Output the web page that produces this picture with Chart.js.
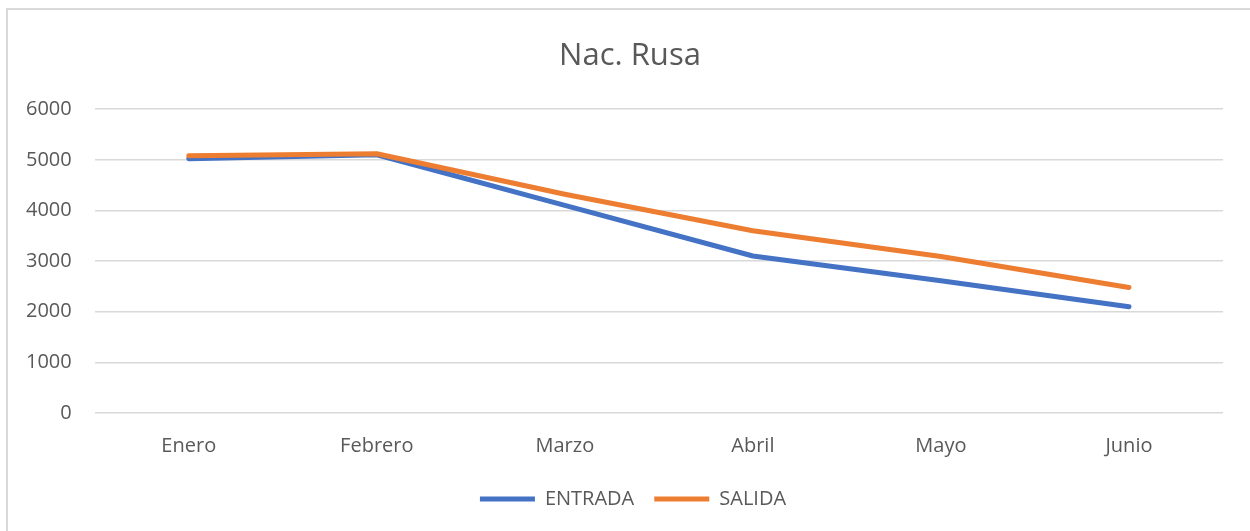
<!DOCTYPE html>
<html>
<head>
<meta charset="utf-8">
<script src="https://cdn.jsdelivr.net/npm/chart.js@4.4.1/dist/chart.umd.min.js"></script>
<style>
  html, body { margin: 0; padding: 0; background: #fff; overflow: hidden; }
  #wrap { position: relative; width: 1250px; height: 531px; }
  #marco { position: absolute; left: 6px; top: 8px; width: 1300px; height: 600px; border: 2px solid #d9d9d9; box-sizing: border-box; }
  canvas { position: absolute; left: 0; top: 0; }
</style>
</head>
<body>
<div id="wrap">
  <div id="marco"></div>
  <canvas id="graf" width="1250" height="531"></canvas>
</div>
<script>
// Datos del gráfico
const meses = ['Enero', 'Febrero', 'Marzo', 'Abril', 'Mayo', 'Junio']
const entrada = [5020, 5100, 4100, 3100, 2610, 2100]
const salida = [5080, 5120, 4320, 3600, 3090, 2480]
const ticksY = [0, 1000, 2000, 3000, 4000, 5000, 6000]

const gris = '#595959'
Chart.defaults.font.family = '"Open Sans", sans-serif'
Chart.defaults.color = gris

let ctx = document.getElementById('graf').getContext('2d')

// mueve un poco a la derecha el título y la leyenda (centrados como en Excel)
const centrar = {
    id: 'centrar',
    afterLayout(chart) {
        chart.titleBlock.left += 34
        chart.legend.left += 40
    }
}

const config = {
    type: 'line',
    data: {
        labels: meses,
        datasets: [{
            label: 'ENTRADA',
            data: entrada,
            borderColor: '#4472C4',
            backgroundColor: '#4472C4',
            borderWidth: 5,
            pointRadius: 0,
            borderCapStyle: 'round',
            borderJoinStyle: 'round',
            tension: 0,
            order: 1
        }, {
            label: 'SALIDA',
            data: salida,
            borderColor: '#ED7D31',
            backgroundColor: '#ED7D31',
            borderWidth: 5,
            pointRadius: 0,
            borderCapStyle: 'round',
            borderJoinStyle: 'round',
            tension: 0,
            order: 0
        }]
    },
    options: {
        responsive: false,
        animation: false,
        layout: { padding: { left: 3, right: 27, top: 0, bottom: 12 } },
        plugins: {
            title: {
                display: true,
                text: 'Nac. Rusa',
                color: gris,
                font: { size: 31, weight: 'normal' },
                padding: { top: 38, bottom: 34 }
            },
            legend: {
                position: 'bottom',
                labels: {
                    usePointStyle: true,
                    pointStyle: 'line',
                    pointStyleWidth: 55,
                    boxHeight: 19,
                    padding: 20,
                    color: gris,
                    font: { size: 20 },
                    sort: (a, b) => a.datasetIndex - b.datasetIndex
                }
            },
            tooltip: { enabled: false }
        },
        scales: {
            x: {
                offset: true,
                grid: { display: false, drawTicks: false },
                border: { display: false },
                ticks: { padding: 21, font: { size: 20 }, color: gris },
                afterFit: (s) => { s.height = 56 }
            },
            y: {
                min: 0,
                max: 6000,
                afterBuildTicks: (s) => { s.ticks = ticksY.map(v => ({ value: v })) },
                grid: { color: '#d9d9d9', lineWidth: 1.5, drawTicks: false },
                border: { display: false },
                ticks: { padding: 23, font: { size: 20 }, color: gris, callback: (v) => String(v) }
            }
        }
    },
    plugins: [centrar]
}

const grafico = new Chart(ctx, config)
</script>
</body>
</html>
